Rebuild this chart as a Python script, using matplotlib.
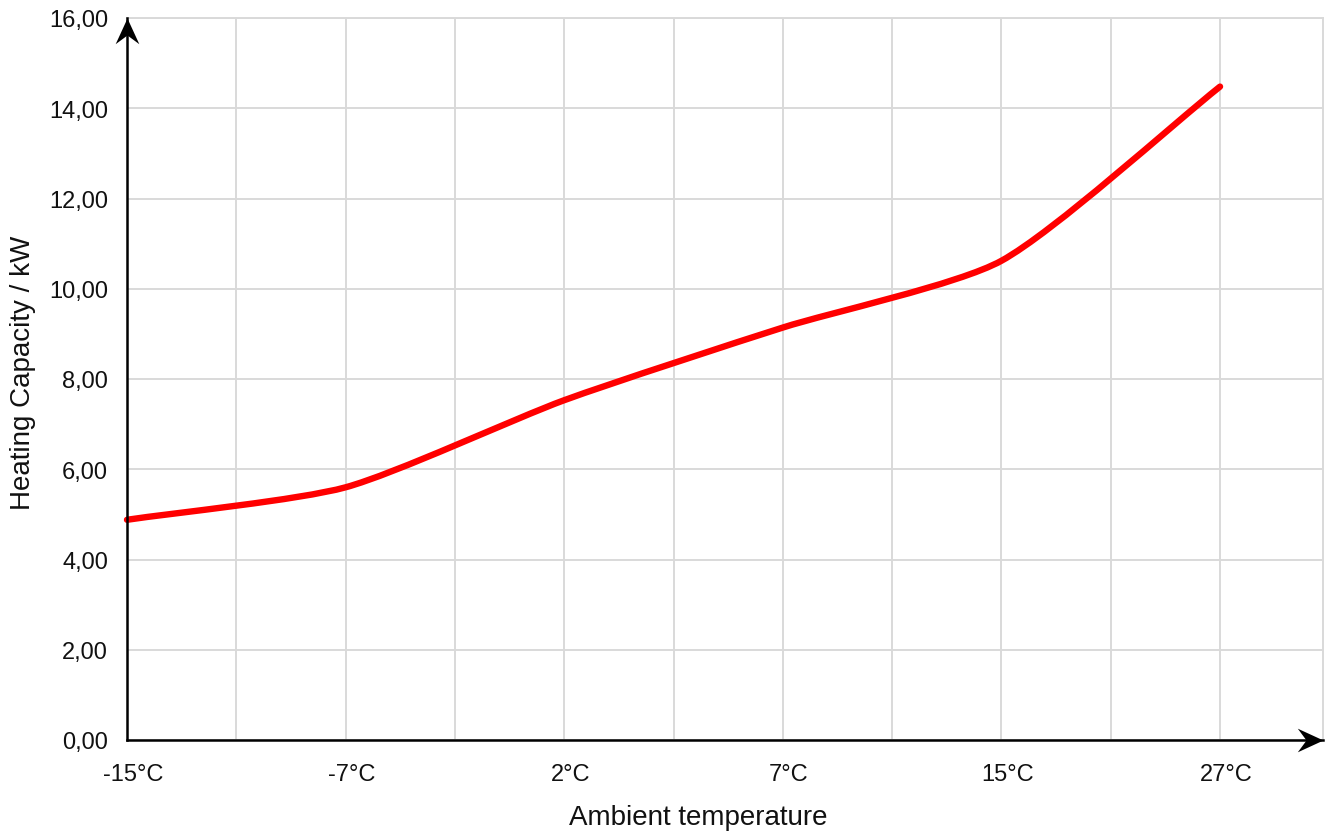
import numpy as np
import matplotlib
matplotlib.use("Agg")
import matplotlib.pyplot as plt
from matplotlib.path import Path
from matplotlib.patches import PathPatch
import matplotlib.transforms as mtransforms

# ---------------- data ----------------
temperatures = ['-15°C', '-7°C', '2°C', '7°C', '15°C', '27°C']
heating_capacity = [4.88, 5.60, 7.53, 9.14, 10.62, 14.48]
y_ticks = [0, 2, 4, 6, 8, 10, 12, 14, 16]
x_title = 'Ambient temperature'
y_title = 'Heating Capacity / kW'

plt.rcParams['font.family'] = ['Liberation Sans', 'DejaVu Sans']

W, H = 1330, 837
fig = plt.figure(figsize=(W / 100, H / 100), dpi=100)
ax = fig.add_axes([127 / W, (H - 741) / H, (1323 - 127) / W, (741 - 19) / H])

x = np.arange(len(temperatures))
ax.set_xlim(0, 5.471)
ax.set_ylim(0, 16)

grid_c = '#d9d9d9'
ax.set_xticks(x)
ax.set_xticklabels(temperatures)
ax.set_xticks(np.arange(0.5, len(temperatures) - 0.5, 1.0), minor=True)
ax.set_yticks(y_ticks)
ax.set_yticklabels([f"{v:.2f}".replace('.', ',') for v in y_ticks])
ax.grid(True, which='both', color=grid_c, lw=1.4, zorder=0)
ax.set_axisbelow(True)

ax.tick_params(axis='both', which='both', length=0, labelsize=17, colors='#111111')
ax.tick_params(axis='x', pad=16.5)
ax.tick_params(axis='y', pad=13.7)

offset = mtransforms.ScaledTranslation(6 / 100, 0, fig.dpi_scale_trans)
for lab in ax.get_xticklabels():
    lab.set_transform(lab.get_transform() + offset)

for s in ['top', 'right']:
    ax.spines[s].set_color(grid_c)
    ax.spines[s].set_linewidth(1.4)
for s in ['left', 'bottom']:
    ax.spines[s].set_color('black')
    ax.spines[s].set_linewidth(1.8)
    ax.spines[s].set_zorder(4)

# arrow heads on axes
arrow_r = Path([(0, 0), (-1, 0.46), (-0.66, 0), (-1, -0.46), (0, 0)],
               [Path.MOVETO, Path.LINETO, Path.LINETO, Path.LINETO, Path.CLOSEPOLY])
arrow_u = Path([(0, 0), (0.46, -1), (0, -0.66), (-0.46, -1), (0, 0)],
               [Path.MOVETO, Path.LINETO, Path.LINETO, Path.LINETO, Path.CLOSEPOLY])
ax.plot([1], [0], marker=arrow_r, ms=37, color='black', mew=0,
        transform=ax.transAxes, clip_on=False, zorder=5)
ax.plot([0], [1], marker=arrow_u, ms=37, color='black', mew=0,
        transform=ax.transAxes, clip_on=False, zorder=5)

# smooth line (spline with tension through the data points)
pts = ax.transData.transform(np.column_stack([x, heating_capacity]))
tension = 0.22
n = len(pts)
cp_prev, cp_next = [], []
for i in range(n):
    prev = pts[i - 1] if i > 0 else pts[i]
    nxt = pts[i + 1] if i < n - 1 else pts[i]
    d01 = np.hypot(*(pts[i] - prev))
    d12 = np.hypot(*(nxt - pts[i]))
    tot = d01 + d12
    fa = tension * d01 / tot
    fb = tension * d12 / tot
    cp_prev.append(pts[i] - fa * (nxt - prev))
    cp_next.append(pts[i] + fb * (nxt - prev))
verts = [pts[0]]
codes = [Path.MOVETO]
for i in range(n - 1):
    verts += [cp_next[i], cp_prev[i + 1], pts[i + 1]]
    codes += [Path.CURVE4] * 3
verts = ax.transData.inverted().transform(np.array(verts))
patch = PathPatch(Path(verts, codes), transform=ax.transData, fc='none',
                  ec='#ff0000', lw=4.6, capstyle='round', joinstyle='round',
                  clip_on=False, zorder=3)
ax.add_patch(patch)

fig.text(698 / W, (H - 825) / H, x_title, ha='center', va='baseline',
         fontsize=20, color='#111111')
fig.text(23 / W, (H - 373) / H, y_title, ha='center', va='center',
         rotation=90, fontsize=20, color='#111111')

fig.savefig('out.png', dpi=100)
